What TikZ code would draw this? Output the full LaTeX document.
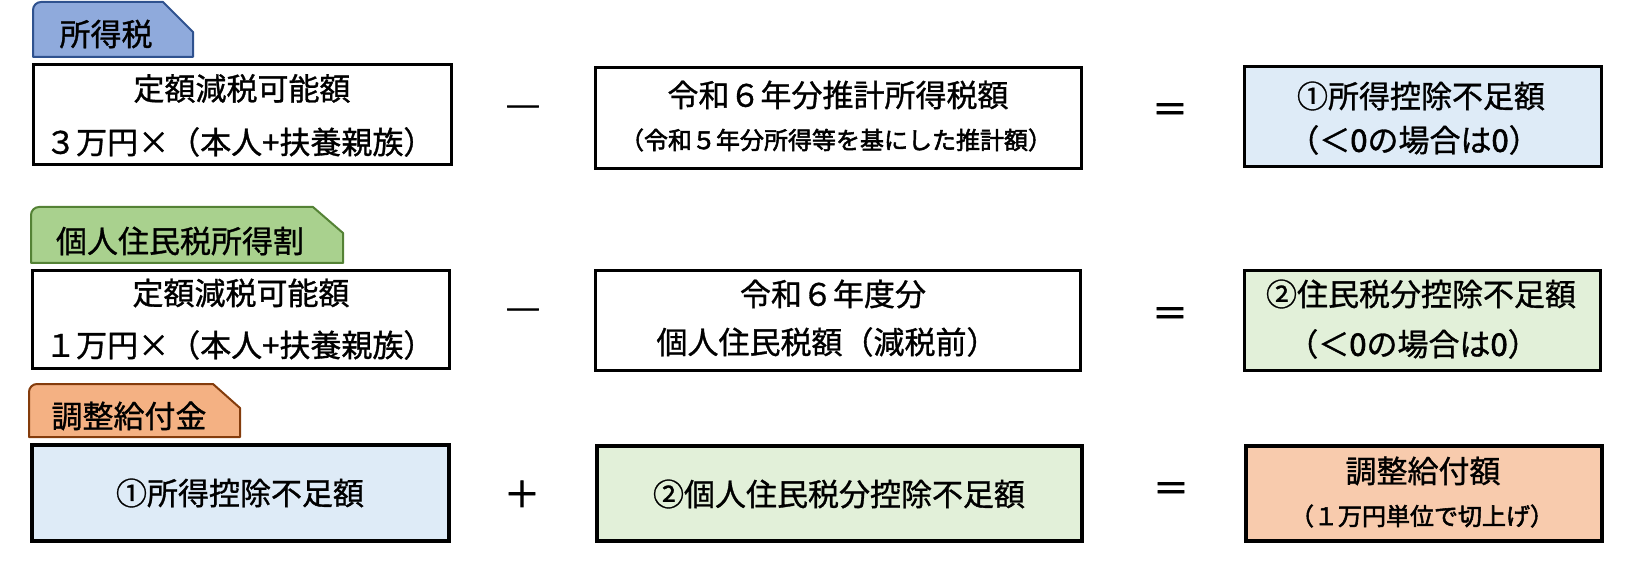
\documentclass[tikz,border=0pt]{standalone}
\usepackage{fontspec}
\setmainfont{Noto Sans CJK JP}
\newfontfamily\jpmid{Noto Sans CJK JP}[FakeBold=1.0]
\newfontfamily\jpbold{Noto Sans CJK JP}[FakeBold=2.2]
\definecolor{tabblue}{HTML}{8FAADC}
\definecolor{tabblueline}{HTML}{2F528F}
\definecolor{tabgreen}{HTML}{A9D18E}
\definecolor{tabgreenline}{HTML}{548235}
\definecolor{taborange}{HTML}{F4B183}
\definecolor{taborangeline}{HTML}{843C0C}
\definecolor{lblue}{HTML}{DEEBF7}
\definecolor{lgreen}{HTML}{E2F0D9}
\definecolor{lorange}{HTML}{F8CBAD}
\tikzset{
  box/.style={draw=black, line width=3pt, inner sep=0pt, rectangle},
  thickbox/.style={draw=black, line width=4pt, inner sep=0pt, rectangle},
  big/.style={inner sep=0pt, font=\jpmid\fontsize{31}{31}\selectfont},
  small/.style={inner sep=0pt, font=\jpbold\fontsize{24}{24}\selectfont},
  optext/.style={inner sep=0pt, font=\jpbold\fontsize{36}{36}\selectfont},
  tabshape/.style={line width=2pt, line join=round}
}
\begin{document}
\begin{tikzpicture}[x=1pt, y=-1pt]
\useasboundingbox (0,0) rectangle (1628,569);

% tabs
\path[tabshape, fill=tabblue, draw=tabblueline]
  (33,57) -- (33,10) arc[start angle=180, end angle=270, radius=8] -- (163,2) -- (193,32) -- (193,57) -- cycle;
\path[tabshape, fill=tabgreen, draw=tabgreenline]
  (31,263) -- (31,215) arc[start angle=180, end angle=270, radius=8] -- (313,207) -- (343,233) -- (343,263) -- cycle;
\path[tabshape, fill=taborange, draw=taborangeline]
  (29,437) -- (29,392) arc[start angle=180, end angle=270, radius=8] -- (213,384) -- (240,408) -- (240,437) -- cycle;
\node[big] (tab1) at (106,34) {所得税};
\node[big] (tab2) at (180,241) {個人住民税所得割};
\node[big] (tab3) at (129,416) {調整給付金};

% row 1
\node[box, minimum width=418, minimum height=100] (b11) at (242.5,114.5) {};
\node[box, minimum width=486, minimum height=101] (b12) at (838.5,118) {};
\node[box, fill=lblue, minimum width=357, minimum height=100] (b13) at (1423,116.5) {};
\node[big] (t11a) at (242,88.5) {定額減税可能額};
\node[big, anchor=west] (t11b) at (45,142) {３万円×（本人+扶養親族）};
\node[big] (t12a) at (838,95) {令和６年分推計所得税額};
\node[small] (t12b) at (836,140) {（令和５年分所得等を基にした推計額）};
\node[big] (t13a) at (1421,96) {①所得控除不足額};
\node[big] (t13b) at (1414,140) {（＜{\jpbold 0}の場合は{\jpbold 0}）};
\node[optext] (op11) at (523,113) {―};
\node[optext] (op12) at (1170,113) {＝};

% row 2
\node[box, minimum width=417, minimum height=98] (b21) at (241,319.5) {};
\node[box, minimum width=485, minimum height=100] (b22) at (838,320.5) {};
\node[box, fill=lgreen, minimum width=356, minimum height=100] (b23) at (1422.5,320.5) {};
\node[big] (t21a) at (241,293) {定額減税可能額};
\node[big, anchor=west] (t21b) at (45,345) {１万円×（本人+扶養親族）};
\node[big] (t22a) at (833,294) {令和６年度分};
\node[big] (t22b) at (827,342) {個人住民税額（減税前）};
\node[big] (t23a) at (1421,294) {②住民税分控除不足額};
\node[big] (t23b) at (1413,344) {（＜{\jpbold 0}の場合は{\jpbold 0}）};
\node[optext] (op21) at (523,316) {―};
\node[optext] (op22) at (1170,317) {＝};

% row 3
\node[thickbox, fill=lblue, minimum width=417, minimum height=96] (b31) at (240.5,493) {};
\node[thickbox, fill=lgreen, minimum width=485, minimum height=95] (b32) at (839.5,493.5) {};
\node[thickbox, fill=lorange, minimum width=356, minimum height=95] (b33) at (1424,493.5) {};
\node[big] (t31) at (240,493) {①所得控除不足額};
\node[big] (t32) at (839,494) {②個人住民税分控除不足額};
\node[big] (t33a) at (1423,471) {調整給付額};
\node[small] (t33b) at (1422,516) {（１万円単位で切上げ）};
\node[optext] (op31) at (522,494) {＋};
\node[optext] (op32) at (1171,492) {＝};
\end{tikzpicture}
\end{document}
